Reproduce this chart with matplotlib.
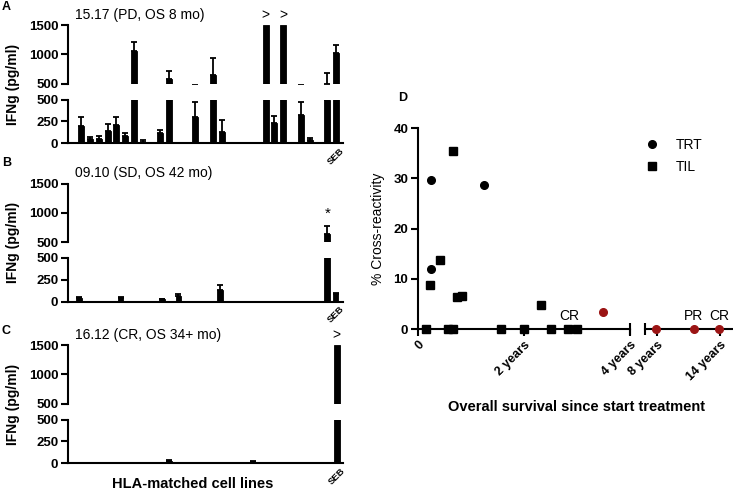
import numpy as np
import matplotlib
matplotlib.use("Agg")
import matplotlib.pyplot as plt

plt.rcParams['font.family'] = ['Liberation Sans', 'DejaVu Sans']

# IFNg release (pg/ml) per HLA-matched cell line, last bar = SEB control
# values >= 1500 are off scale (marked with ">")
a_title = "15.17 (PD, OS 8 mo)"
a_vals = [200, 50, 50, 140, 205, 80, 1050, 15, 3, 120, 575, 5, 2, 300, 3,
          640, 130, 5, 0, 0, 4, 1500, 235, 1500, 5, 320, 30, 5, 500, 1025]
a_errs = [295, 65, 75, 215, 295, 115, 1210, 40, 0, 155, 710, 0, 0, 470, 0,
          930, 265, 0, 0, 0, 0, 0, 310, 0, 0, 470, 55, 0, 680, 1155]

b_title = "09.10 (SD, OS 42 mo)"
b_vals = [40, 4, 3, 4, 3, 35, 3, 4, 3, 3, 24, 3, 60, 3, 4, 3, 3, 127, 3, 4,
          3, 3, 4, 3, 3, 4, 3, 3, 4, 3, 630, 90]
b_errs = [52, 0, 0, 0, 0, 48, 0, 0, 0, 0, 32, 0, 87, 0, 0, 0, 0, 190, 0, 0,
          0, 0, 0, 0, 0, 0, 0, 0, 0, 0, 775, 103]
b_star = 30

c_title = "16.12 (CR, OS 34+ mo)"
c_vals = [5, 0, 0, 0, 0, 5, 5, 0, 5, 5, 0, 25, 0, 5, 5, 0, 5, 5, 5, 5,
          6, 15, 5, 5, 5, 0, 5, 0, 0, 6, 0, 1500]
c_errs = [0] * 11 + [32] + [0] * 9 + [20] + [0] * 10

# cross-reactivity vs overall survival
trt_months = [2.9, 2.9, 14.9]
trt_pct = [29.7, 12.0, 28.6]
til_months = [7.9, 4.9, 2.8, 8.8, 9.9, 27.9, 1.8, 6.9, 8.0, 18.9, 23.9, 30.0, 33.9, 35.9]
til_pct = [35.5, 13.7, 8.8, 6.3, 6.6, 4.8, 0, 0, 0, 0, 0, 0, 0, 0]
red_months = [41.9]
red_pct = [3.3]
late_years = [7.9, 11.5, 13.95]
late_pct = [0, 0, 0]
late_labels = ["", "PR", "CR"]

W, H = 733, 491
RED = '#9b1414'


def px(x0, y0, x1, y1):
    return [x0 / W, 1 - y1 / H, (x1 - x0) / W, (y1 - y0) / H]


fig = plt.figure(figsize=(W / 100, H / 100), dpi=100)


def style(ax):
    for s in ax.spines.values():
        s.set_linewidth(1.5)
    ax.tick_params(width=1.5, length=5, labelsize=9.5, pad=2)
    plt.setp(ax.get_yticklabels(), fontweight='bold')


def bar_panel(y0, vals, errs, title, xlim, star=None):
    top = fig.add_axes(px(68, y0, 343, y0 + 58.5))
    bot = fig.add_axes(px(68, y0 + 74.5, 343, y0 + 118))
    x = np.arange(len(vals))
    v = np.array(vals, dtype=float)
    e = np.array(errs, dtype=float)
    has = e > v
    for ax in (top, bot):
        ax.bar(x, v, width=0.68, color='k', edgecolor='k', linewidth=0.6)
        ax.errorbar(x[has], v[has], yerr=[np.zeros(has.sum()), (e - v)[has]],
                    fmt='none', ecolor='k', elinewidth=1.3, capsize=2, capthick=1.3)
        ax.set_xlim(*xlim)
        ax.spines['top'].set_visible(False)
        ax.spines['right'].set_visible(False)
    top.set_ylim(500, 1500)
    top.set_yticks([500, 1000, 1500])
    top.spines['bottom'].set_visible(False)
    top.set_xticks([])
    bot.set_ylim(0, 500)
    bot.set_yticks([0, 250, 500])
    style(top)
    style(bot)
    bot.set_xticks([len(vals) - 1])
    bot.set_xticklabels(['SEB'], rotation=45, fontsize=6.8, fontweight='bold',
                        ha='center')
    bot.tick_params(axis='x', length=0, pad=2)
    for i in np.where(v >= 1500)[0]:
        top.annotate('>', xy=(i, 1500), xytext=(0, 2), textcoords='offset points',
                     ha='center', va='bottom', fontsize=10, annotation_clip=False)
    if star is not None:
        top.annotate('*', xy=(star, e[star]), xytext=(0, 4), textcoords='offset points',
                     ha='center', va='bottom', fontsize=11, annotation_clip=False)
    fig.text(75 / W, 1 - (y0 - 10) / H, title, fontsize=10, va='center')
    fig.text(13 / W, 1 - (y0 + 59) / H, 'IFNg (pg/ml)', fontsize=10,
             fontweight='bold', rotation=90, ha='center', va='center')
    return top, bot


bar_panel(25, a_vals, a_errs, a_title, (-1.5, 29.8))
bar_panel(183.5, b_vals, b_errs, b_title, (-1.35, 31.9), star=b_star)
bar_panel(345, c_vals, c_errs, c_title, (-1.0, 31.75))

fig.text(2 / W, 1 - 7 / H, 'A', fontsize=9, fontweight='bold', va='center')
fig.text(2 / W, 1 - 163 / H, 'B', fontsize=9, fontweight='bold', va='center')
fig.text(2 / W, 1 - 331 / H, 'C', fontsize=9, fontweight='bold', va='center')
fig.text(193 / W, 1 - 484 / H, 'HLA-matched cell lines', fontsize=10.5,
         fontweight='bold', ha='center', va='center')

# panel D: broken x axis
d1 = fig.add_axes(px(418, 128.3, 630, 329))
d2 = fig.add_axes(px(645, 128.3, 733, 329))
d2.patch.set_visible(False)

trt_h, = d1.plot(trt_months, trt_pct, 'o', color='k', ms=5.5, clip_on=False,
                 zorder=5, label='TRT')
til_h, = d1.plot(til_months, til_pct, 's', color='k', ms=5.5, clip_on=False,
                 zorder=5, label='TIL')
d1.plot(red_months, red_pct, 'o', color=RED, ms=5.5, clip_on=False, zorder=5)
d1.set_xlim(0, 48)
d1.set_ylim(0, 40)
d1.set_xticks([0, 24, 48])
d1.set_xticklabels(['0', '2 years', '4 years'])
d1.set_yticks([0, 10, 20, 30, 40])
d1.set_ylabel('% Cross-reactivity', fontsize=10, labelpad=6)
d1.spines['top'].set_visible(False)
d1.spines['right'].set_visible(False)
d1.annotate('CR', xy=(np.mean(til_months[-2:]), 0), xytext=(-2, 6.5),
            textcoords='offset points', ha='center', va='baseline', fontsize=10)
d1.plot([1], [0], marker='|', ms=9, mew=1.5, color='k', transform=d1.transAxes,
        clip_on=False)

d2.plot(late_years, late_pct, 'o', color=RED, ms=5.5, clip_on=False, zorder=5)
d2.set_xlim(6.86, 15.24)
d2.set_ylim(0, 40)
d2.set_xticks([8, 14])
d2.set_xticklabels(['8 years', '14 years'])
d2.set_yticks([])
for s in ('top', 'right', 'left'):
    d2.spines[s].set_visible(False)
d2.plot([0], [0], marker='|', ms=9, mew=1.5, color='k', transform=d2.transAxes,
        clip_on=False)
for yr, lab in zip(late_years, late_labels):
    if lab:
        d2.annotate(lab, xy=(yr, 0), xytext=(0, 6.5), textcoords='offset points',
                    ha='center', va='baseline', fontsize=10)

for ax in (d1, d2):
    style(ax)
    plt.setp(ax.get_xticklabels(), fontweight='bold', rotation=45, ha='right',
             rotation_mode='anchor', fontsize=9)

fig.legend(handles=[trt_h, til_h], loc='upper left',
           bbox_to_anchor=(644 / W, 1 - 138 / H), frameon=False, fontsize=10,
           handlelength=1.2, handletextpad=1.1, borderpad=0, borderaxespad=0,
           labelspacing=0.55)

fig.text(398 / W, 1 - 98 / H, 'D', fontsize=9, fontweight='bold', va='center')
fig.text(576 / W, 1 - 407 / H, 'Overall survival since start treatment',
         fontsize=10.5, fontweight='bold', ha='center', va='center')

fig.savefig('out.png', dpi=100)
